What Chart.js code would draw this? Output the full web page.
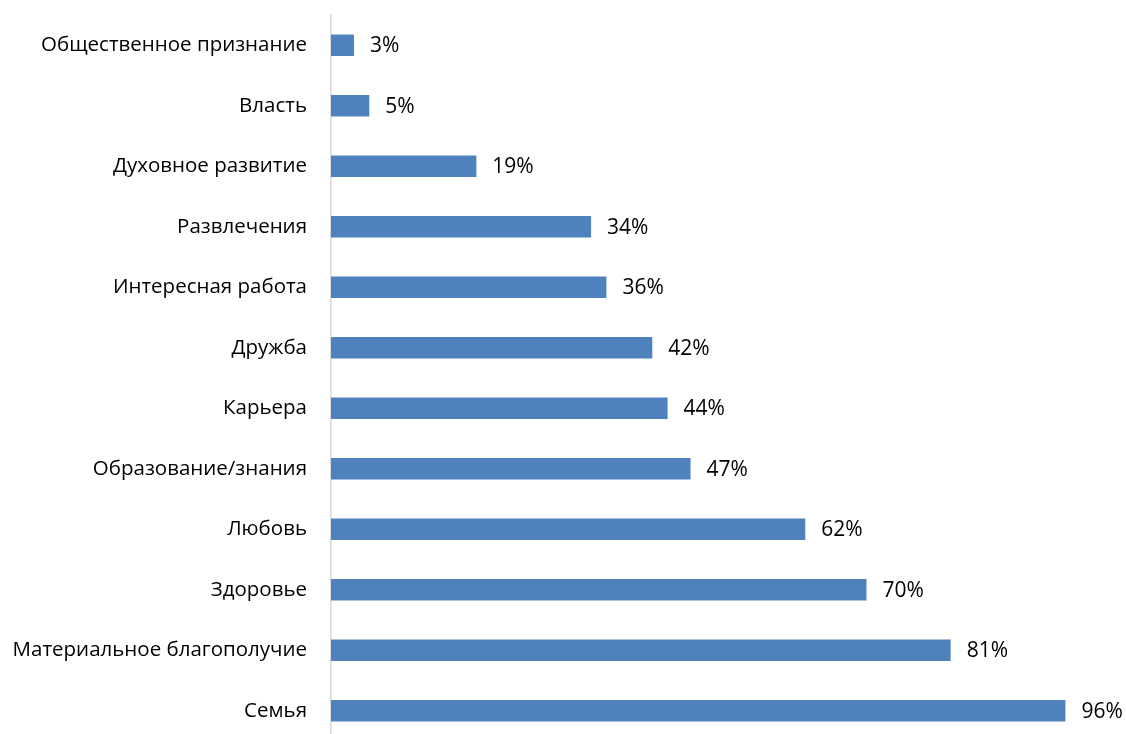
<!DOCTYPE html>
<html lang="ru">
<head>
<meta charset="utf-8">
<title>Жизненные ценности</title>
<script src="https://cdn.jsdelivr.net/npm/chart.js@4"></script>
<style>
    html, body { margin: 0; padding: 0; background: #fff; overflow: hidden; }
    #wrap { position: relative; width: 1126px; height: 760px; }
</style>
</head>
<body>
<div id="wrap"><canvas id="valuesChart"></canvas></div>
<script>
// Ценности, сверху вниз
const categories = [
    'Общественное признание',
    'Власть',
    'Духовное развитие',
    'Развлечения',
    'Интересная работа',
    'Дружба',
    'Карьера',
    'Образование/знания',
    'Любовь',
    'Здоровье',
    'Материальное благополучие',
    'Семья'
];

// Доля ответивших, %
const shares = [3, 5, 19, 34, 36, 42, 44, 47, 62, 70, 81, 96];

const fontFamily = '"Open Sans", "Noto Sans", sans-serif';

// Подписи значений справа от полос
const valueLabels = {
    id: 'valueLabels',
    afterDatasetsDraw(chart) {
        const ctx = chart.ctx;
        const meta = chart.getDatasetMeta(0);
        ctx.save();
        ctx.font = '21px ' + fontFamily;
        ctx.fillStyle = '#000';
        ctx.textAlign = 'left';
        ctx.textBaseline = 'middle';
        meta.data.forEach((bar, i) => {
            ctx.fillText(shares[i] + '%', bar.x + 16, bar.y + 1);
        });
        ctx.restore();
    }
};

new Chart(document.getElementById('valuesChart'), {
    type: 'bar',
    data: {
        labels: categories,
        datasets: [{
            data: shares,
            backgroundColor: '#4f81bd',
            borderWidth: 0,
            categoryPercentage: 1,
            barPercentage: 0.355
        }]
    },
    options: {
        indexAxis: 'y',
        responsive: true,
        maintainAspectRatio: false,
        animation: false,
        layout: { padding: { top: 15, right: 30, bottom: 19, left: 0 } },
        plugins: {
            legend: { display: false },
            tooltip: { enabled: false }
        },
        scales: {
            x: {
                display: false,
                min: 0,
                max: 100
            },
            y: {
                // fixed axis position, no extra room above/below the bands
                afterFit(scale) {
                    scale.width = 331;
                    scale.paddingTop = 0;
                    scale.paddingBottom = 0;
                },
                grid: { display: false, drawTicks: false },
                border: { display: true, color: '#d9d9d9', width: 1.5 },
                ticks: {
                    padding: 24,
                    color: '#000',
                    font: { family: fontFamily, size: 20.5 }
                }
            }
        }
    },
    plugins: [valueLabels]
});
</script>
</body>
</html>
